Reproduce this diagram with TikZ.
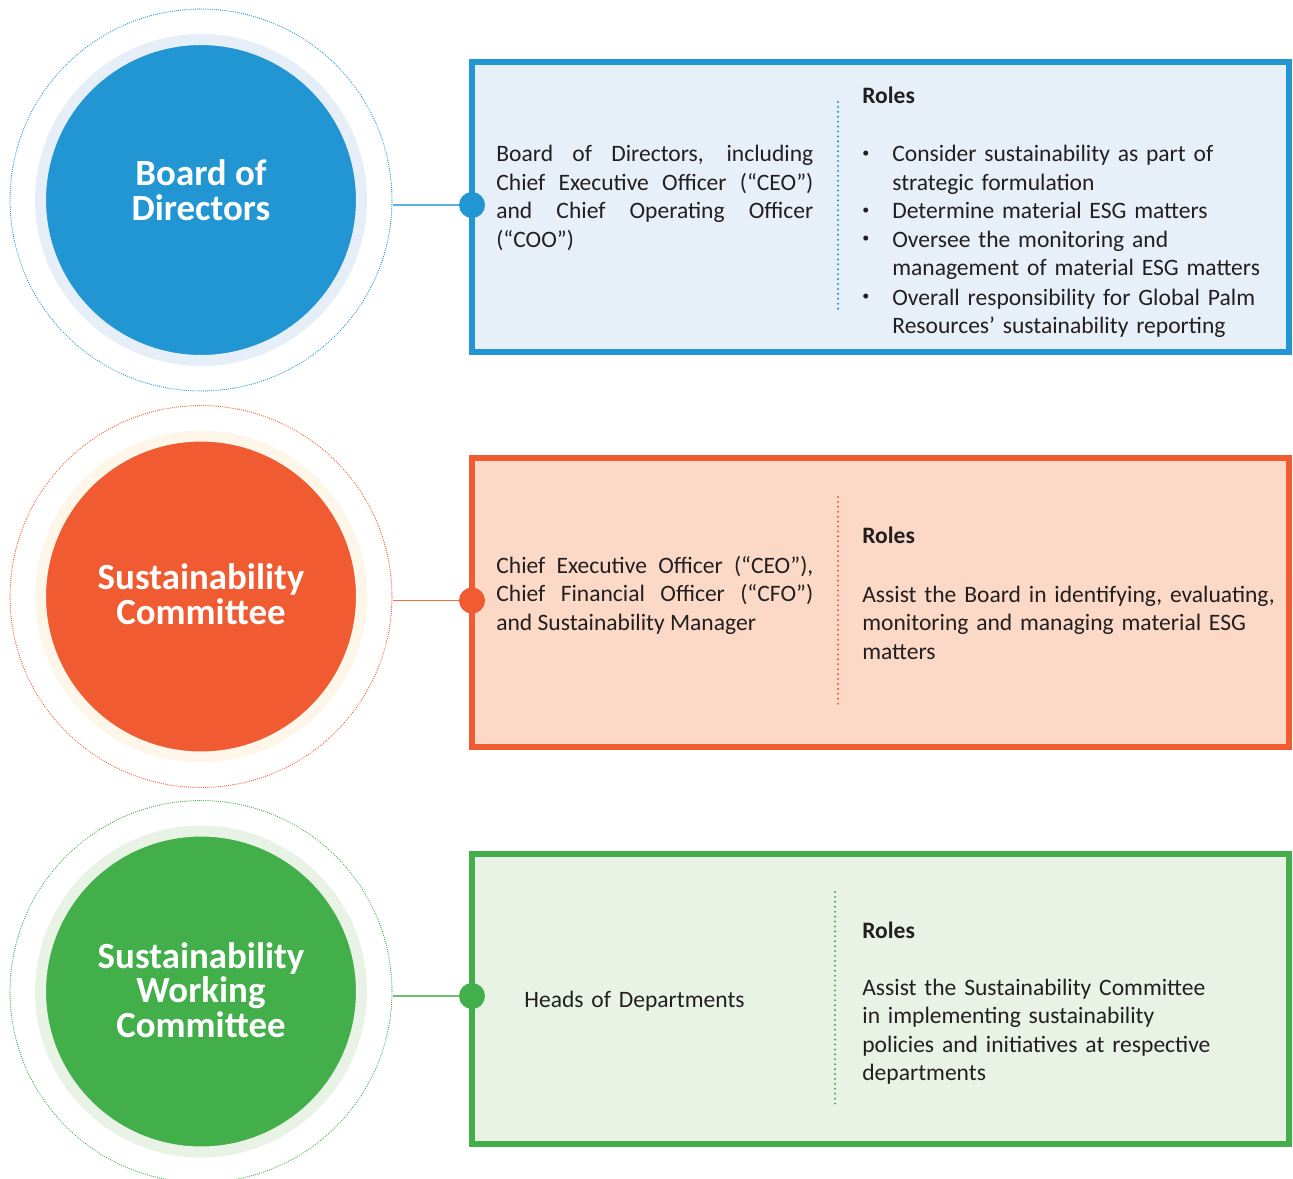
\documentclass[tikz,border=0pt]{standalone}
\usepackage{fontspec}
\setmainfont{Carlito}
\usepackage{tikz}
\usetikzlibrary{calc}

\definecolor{textgray}{HTML}{231F20}
\definecolor{bodblue}{HTML}{2196D3}
\definecolor{bodfill}{HTML}{E7EFF9}
\definecolor{bodhalo}{HTML}{E6EEF8}
\definecolor{bodline}{HTML}{5BB0E0}
\definecolor{scorange}{HTML}{F15B31}
\definecolor{scfill}{HTML}{FCD9C6}
\definecolor{schalo}{HTML}{FDF6E9}
\definecolor{scline}{HTML}{F26B45}
\definecolor{swgreen}{HTML}{43AF4B}
\definecolor{swfill}{HTML}{E8F3E6}
\definecolor{swhalo}{HTML}{E8F3E6}
\definecolor{swline}{HTML}{6CC070}

\tikzset{
  ring/.style={circle, minimum size=7.64cm, inner sep=0pt, line width=0.7pt, dash pattern=on 0pt off 1.2pt, line cap=round},
  bigdisc/.style={circle, minimum size=6.42cm, inner sep=0pt, line width=0.22cm},
  title/.style={text=white, align=center, inner sep=0pt, font=\fontsize{21}{19.8}\selectfont\bfseries},
  rolebox/.style={rectangle, minimum width=16.34cm, minimum height=5.8cm, inner sep=0pt, line width=0.12cm},
  dot/.style={circle, minimum size=0.52cm, inner sep=0pt},
  link/.style={line width=1.1pt},
  divider/.style={line width=1.3pt, dash pattern=on 0pt off 2.8pt, line cap=round},
  txt/.style={anchor=base west, inner sep=0pt, text=textgray, text width=8.6cm, align=left,
    font=\fontsize{13.4}{16.27}\selectfont},
  jtxt/.style={txt, text width=6.34cm, align=justify},
  head/.style={txt, font=\fontsize{13.4}{16.27}\selectfont\bfseries},
  bul/.style={txt, text width=, font=\fontsize{8}{8}\selectfont},
}

\begin{document}
\begin{tikzpicture}[x=0.02cm,y=-0.02cm]
  \useasboundingbox (0,0) rectangle (1293,1178);

  \node[ring,draw=bodblue] (bod-ring) at (201,200) {};
  \node[bigdisc,fill=bodblue,draw=bodhalo] (bod) at (201,200) {};
  \node[title] (bod-title) at (201,190) {Board of\\Directors};
  \node[rolebox,draw=bodblue,fill=bodfill] (bod-box) at (880.5,207) {};
  \node[dot,fill=bodblue] (bod-dot) at (472,205) {};
  \draw[link,bodline] (bod-ring.east |- bod-dot) -- (bod-dot);
  \draw[divider,bodblue] (838,102) -- (838,313);

  \node[jtxt] (bod-who) at (496,161.5) {Board of Directors, including\linebreak Chief Executive Officer (“CEO”)\linebreak and Chief Operating Officer\linebreak (“COO”)};
  \node[head] (bod-roles) at (862,103) {Roles};
  \node[bul] (bod-b1) at (862,157) {•};
  \node[txt] (bod-r1) at (892,161.5) {Consider sustainability as part of\\strategic formulation};
  \node[bul] (bod-b2) at (862,214) {•};
  \node[txt] (bod-r2) at (892,218.5) {Determine material ESG matters};
  \node[bul] (bod-b3) at (862,242.5) {•};
  \node[txt] (bod-r3) at (892,247) {Oversee the monitoring and\\management of material ESG matters};
  \node[bul] (bod-b4) at (862,300.5) {•};
  \node[txt] (bod-r4) at (892,305) {Overall responsibility for Global Palm\\Resources’ sustainability reporting};

  \node[ring,draw=scorange] (sc-ring) at (201,596.5) {};
  \node[bigdisc,fill=scorange,draw=schalo] (sc) at (201,596.5) {};
  \node[title] (sc-title) at (201,594) {Sustainability\\Committee};
  \node[rolebox,draw=scorange,fill=scfill] (sc-box) at (880.5,602.5) {};
  \node[dot,fill=scorange] (sc-dot) at (472,600.5) {};
  \draw[link,scline] (sc-ring.east |- sc-dot) -- (sc-dot);
  \draw[divider,scorange] (838,497) -- (838,708);

  \node[jtxt] (sc-who) at (496,573) {Chief Executive Officer (“CEO”),\linebreak Chief Financial Officer (“CFO”)\linebreak and Sustainability Manager};
  \node[head] (sc-roles) at (862,543) {Roles};
  \node[txt] (sc-r1) at (862,602) {Assist the Board in identifying, evaluating,\\monitoring and managing material ESG\\matters};

  \node[ring,draw=swgreen] (sw-ring) at (201,991.5) {};
  \node[bigdisc,fill=swgreen,draw=swhalo] (sw) at (201,991.5) {};
  \node[title] (sw-title) at (201,990) {Sustainability\\Working\\Committee};
  \node[rolebox,draw=swgreen,fill=swfill] (sw-box) at (880.5,998.5) {};
  \node[dot,fill=swgreen] (sw-dot) at (472,996) {};
  \draw[link,swline] (sw-ring.east |- sw-dot) -- (sw-dot);
  \draw[divider,swgreen] (835,892) -- (835,1104);

  \node[txt] (sw-who) at (524,1007) {Heads of Departments};
  \node[head] (sw-roles) at (862,938) {Roles};
  \node[txt] (sw-r1) at (862,995) {Assist the Sustainability Committee\\in implementing sustainability\\policies and initiatives at respective\\departments};
\end{tikzpicture}
\end{document}
